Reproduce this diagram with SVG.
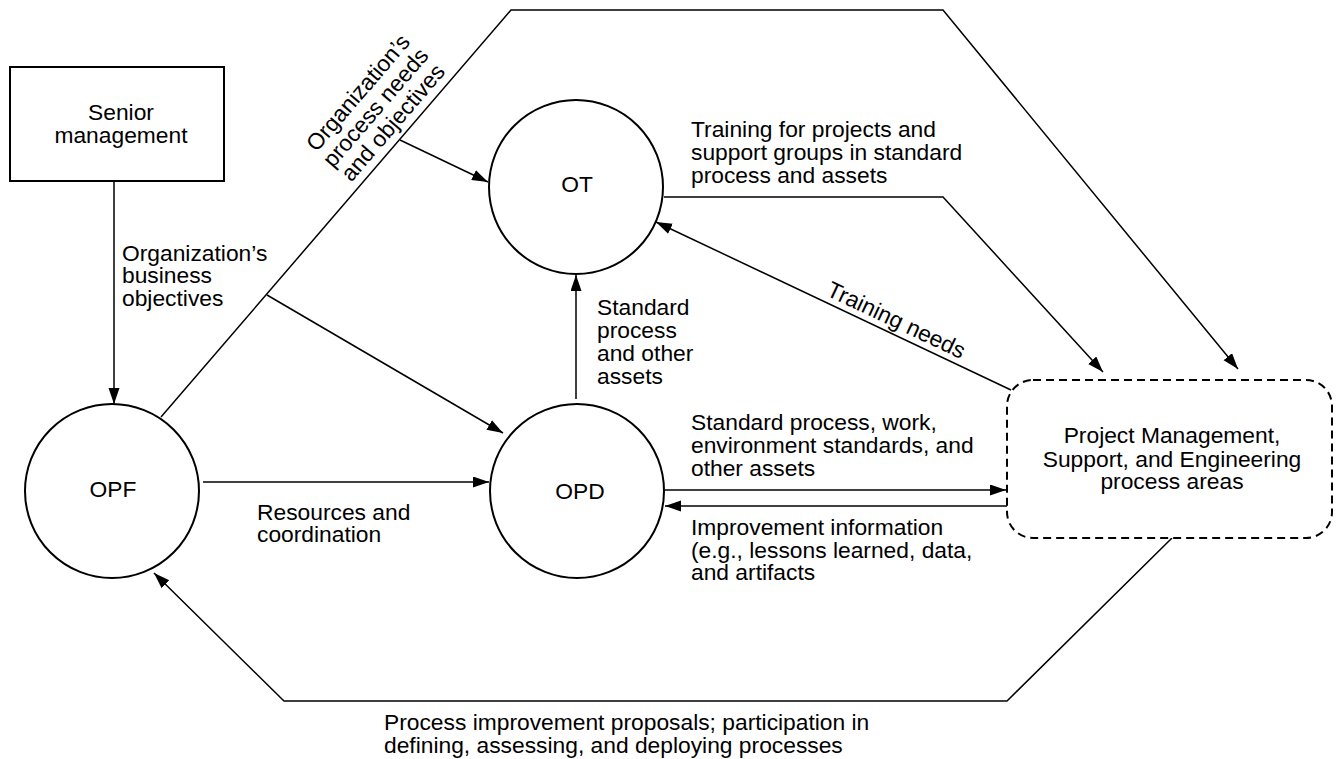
<svg xmlns="http://www.w3.org/2000/svg" width="1341" height="759" viewBox="0 0 1341 759">
<defs>
<marker id="ah" markerUnits="userSpaceOnUse" markerWidth="17" markerHeight="12" refX="16" refY="5.5" orient="auto">
<path d="M0,0 L16,5.5 L0,11 z" fill="#000"/>
</marker>
<style>
text{font-family:"Liberation Sans",Arial,Helvetica,sans-serif;font-size:22.8px;fill:#000}
.c{text-anchor:middle}
.shape{fill:#fff;stroke:#000;stroke-width:2}
.ln{fill:none;stroke:#000;stroke-width:1.5}
.ar{fill:none;stroke:#000;stroke-width:1.5;marker-end:url(#ah)}
</style>
</defs>
<rect width="1341" height="759" fill="#fff"/>
<g id="connectors">
<polyline class="ar" points="161,417 511,10 943,10 1238,369"/>
<line class="ar" x1="400" y1="140" x2="488" y2="182"/>
<line class="ar" x1="267" y1="295" x2="503" y2="433"/>
<line class="ar" x1="114" y1="181" x2="114" y2="404"/>
<line class="ar" x1="203" y1="482" x2="489" y2="482"/>
<line class="ar" x1="576" y1="399" x2="576" y2="275"/>
<polyline class="ar" points="664,197 943,197 1103,372"/>
<line class="ar" x1="1011" y1="390" x2="656" y2="222"/>
<line class="ar" x1="665" y1="490" x2="1006" y2="490"/>
<line class="ar" x1="1007" y1="506" x2="665" y2="506"/>
<polyline class="ar" points="1172,538 1007,701 284,701 154,573"/>
<g id="labels">
<g transform="translate(376,108) rotate(-49.3)">
<text class="c" x="0" y="-16">Organization’s</text>
<text class="c" x="0" y="7">process needs</text>
<text class="c" x="0" y="30">and objectives</text>
</g>
<text x="122" y="261">Organization’s</text>
<text x="122" y="283">business</text>
<text x="122" y="306">objectives</text>
<text x="257" y="520">Resources and</text>
<text x="257" y="542">coordination</text>
<text x="597" y="315">Standard</text>
<text x="597" y="338">process</text>
<text x="597" y="361">and other</text>
<text x="597" y="384">assets</text>
<text x="691" y="137">Training for projects and</text>
<text x="691" y="160">support groups in standard</text>
<text x="691" y="183">process and assets</text>
<text class="c" transform="translate(893,327) rotate(25.3)" x="0" y="0">Training needs</text>
<text x="691" y="430">Standard process, work,</text>
<text x="691" y="453">environment standards, and</text>
<text x="691" y="476">other assets</text>
<text x="691" y="535">Improvement information</text>
<text x="691" y="558">(e.g., lessons learned, data,</text>
<text x="691" y="580">and artifacts</text>
<text x="384" y="730">Process improvement proposals; participation in</text>
<text x="384" y="753">defining, assessing, and deploying processes</text>
</g>
</g>
<g id="senior">
<rect class="shape" x="10" y="67" width="214" height="114"/>
<text class="c" x="121" y="120">Senior</text>
<text class="c" x="121" y="143">management</text>
</g>
<g id="OT">
<circle class="shape" cx="576" cy="187" r="87"/>
<text class="c" x="577" y="192">OT</text>
</g>
<g id="OPF">
<circle class="shape" cx="112" cy="491" r="87"/>
<text class="c" x="113" y="497">OPF</text>
</g>
<g id="OPD">
<circle class="shape" cx="577" cy="491" r="87"/>
<text class="c" x="580" y="499">OPD</text>
</g>
<g id="areas">
<rect x="1007" y="380" width="325" height="158" rx="26" ry="26" fill="#fff" stroke="#000" stroke-width="2" stroke-dasharray="8 5"/>
<text class="c" x="1172" y="443">Project Management,</text>
<text class="c" x="1172" y="467">Support, and Engineering</text>
<text class="c" x="1172" y="489">process areas</text>
</g>
</svg>
